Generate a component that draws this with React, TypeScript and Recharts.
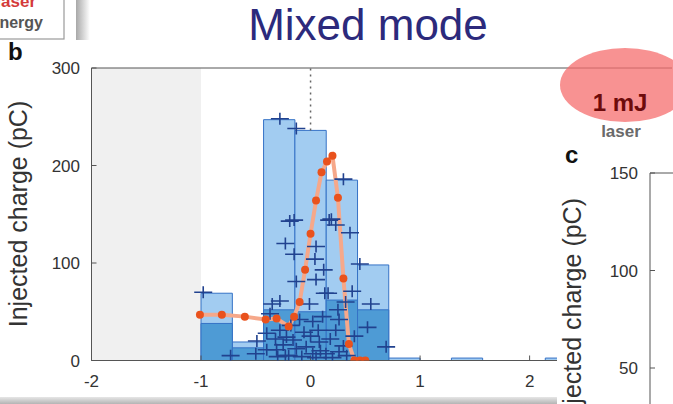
import React from "react";
import { ComposedChart, XAxis, YAxis, ReferenceArea, ReferenceLine, Scatter, Line } from "recharts";

// histogram bins, width 2/7 starting at -1
const binEdges = [-1, -0.714, -0.429, -0.143, 0.143, 0.429, 0.714, 1.0, 1.286, 1.571, 1.857, 2.143, 2.429];
const allCounts = [69, 19, 247, 236, 185, 98, 2.5, 0, 2.5, 0, 0, 2.5];
const selectedCounts = [38, 13, 52, 50, 62, 52, 0, 0, 0, 0, 0, 0];

// mean injected charge vs delay
const meanX = [-1.01, -0.81, -0.6, -0.41, -0.31, -0.2, -0.15, -0.1, -0.05, 0.0, 0.05, 0.1, 0.15, 0.2, 0.25, 0.3, 0.35, 0.4, 0.45, 0.5];
const meanQ = [47, 47, 45, 42, 43, 35, 45, 60, 93, 130, 164, 193, 204, 210, 167, 84, 17, 0, 0, 0];

// single shots
const shotX = [
  -0.98, -0.73, -0.49, -0.4, -0.5, -0.28, -0.13, 0.3, -0.19, -0.23, -0.15, 0.05, 0.04, 0.12, -0.13, 0.05, 0.19, 0.23,
  0.36, 0.45, 0.38, 0.13, 0.55, -0.28, -0.35, 0.25, -0.01, 0.52, 0.02, 0.07, 0.69, 0.23, 0.3, 0.26, -0.28, -0.4,
  -0.22, -0.16, -0.25, -0.13, -0.04, -0.31, 0.08, 0.14, 0.02, -0.37, -0.1, 0.11, 0.26, 0.16, -0.2, -0.08, 0.05, 0.2,
  0.33, -0.3, -0.18, 0.0, -0.06, 0.18, 0.4, 0.32, -0.32, -0.23, 0.09, 0.17, -0.15,
];
const shotQ = [
  70, 5, 20, 11, 7, 248, 238, 186, 143, 120, 109, 117, 104, 93, 81, 83, 145, 139, 131, 99, 71, 69, 58, 61, 58, 52,
  58, 34, 40, 31, 14, 31, 15, 9, 31, 28, 24, 21, 16, 12, 14, 11, 19, 7, 7, 48, 42, 45, 42, 69, 5, 4, 3, 3, 5, 4, 36,
  25, 29, 22, 25, 60, 22, 5, 10, 144, 144,
];

const xTicks = [-2, -1, 0, 1, 2, 3];
const yTicks = [0, 100, 200, 300];
const cTicks = [50, 100, 150];

const bins = allCounts.map((n, i) => ({ x1: binEdges[i], x2: binEdges[i + 1], all: n, sel: selectedCounts[i] }));
const meanData = meanX.map((x, i) => ({ x, q: meanQ[i] }));
const shotData = shotX.map((x, i) => ({ x, q: shotQ[i] }));

const font = "'Liberation Sans', Arial, Helvetica, sans-serif";

function Cross(props: any) {
  const { cx, cy } = props;
  if (cx == null || cy == null) return null;
  return (
    <g stroke="#21428f" strokeWidth={1.6}>
      <line x1={cx - 9} x2={cx + 9} y1={cy} y2={cy} />
      <line x1={cx} x2={cx} y1={cy - 6} y2={cy + 6} />
    </g>
  );
}

function PanelB() {
  return (
    <ComposedChart width={673} height={404} margin={{ top: 48, right: 1, bottom: 13.5, left: 0 }}>
      <XAxis
        dataKey="x"
        type="number"
        domain={[-2, 3.3]}
        ticks={xTicks}
        allowDataOverflow
        height={30}
        tickSize={-5}
        tickMargin={19}
        stroke="#555"
        tick={{ fill: "#333", fontSize: 17, fontFamily: font }}
      />
      <XAxis
        xAxisId="top"
        orientation="top"
        type="number"
        domain={[-2, 3.3]}
        ticks={xTicks}
        allowDataOverflow
        height={20}
        tickSize={-5}
        tick={false}
        stroke="#555"
      />
      <YAxis
        type="number"
        domain={[0, 300]}
        ticks={yTicks}
        allowDataOverflow
        width={91.5}
        tickSize={-5}
        tickMargin={16.5}
        stroke="#555"
        tick={{ fill: "#333", fontSize: 17, fontFamily: font }}
      />
      <ReferenceArea x1={-2} x2={-1} y1={0} y2={300} fill="#f0f0f0" fillOpacity={1} stroke="none" />
      <ReferenceLine
        segment={[
          { x: 0, y: 236 },
          { x: 0, y: 300 },
        ]}
        stroke="#666"
        strokeWidth={1.5}
        strokeDasharray="2 4"
      />
      {bins
        .filter((b) => b.all > 0)
        .map((b) => (
          <ReferenceArea
            key={"all" + b.x1}
            x1={b.x1}
            x2={b.x2}
            y1={0}
            y2={b.all}
            fill="#a2ccf1"
            fillOpacity={1}
            stroke="#3572c6"
            strokeWidth={1}
          />
        ))}
      {bins
        .filter((b) => b.sel > 0)
        .map((b) => (
          <ReferenceArea
            key={"sel" + b.x1}
            x1={b.x1}
            x2={b.x2}
            y1={0}
            y2={b.sel}
            fill="#4e9bd5"
            fillOpacity={1}
            stroke="#3572c6"
            strokeWidth={1}
          />
        ))}
      <Scatter data={shotData} dataKey="q" shape={<Cross />} isAnimationActive={false} />
      <Line
        data={meanData}
        dataKey="q"
        type="linear"
        stroke="#f6a88a"
        strokeWidth={4}
        dot={{ r: 4, fill: "#e9521d", stroke: "none" }}
        activeDot={false}
        isAnimationActive={false}
      />
    </ComposedChart>
  );
}

function PanelC() {
  return (
    <ComposedChart width={116} height={320} margin={{ top: 26, right: 0, bottom: 0.5, left: 0 }}>
      <XAxis dataKey="x" type="number" domain={[0, 1]} hide />
      <XAxis xAxisId="top" orientation="top" type="number" domain={[0, 1]} height={1} tick={false} tickLine={false} stroke="#555" />
      <YAxis
        type="number"
        domain={[0, 150]}
        ticks={cTicks}
        allowDataOverflow
        width={93}
        tickSize={-5}
        tickMargin={17}
        stroke="#555"
        tick={{ fill: "#333", fontSize: 17, fontFamily: font }}
      />
      <ReferenceArea x1={0} x2={1} y1={0} y2={150} fill="#f0f0f0" fillOpacity={1} stroke="none" />
    </ComposedChart>
  );
}

export default function App() {
  return (
    <div
      style={{
        position: "fixed",
        left: 0,
        top: 0,
        width: 673,
        height: 404,
        overflow: "hidden",
        background: "#fff",
        fontFamily: font,
      }}
    >
      <div style={{ position: "absolute", left: 0, top: 0 }}>
        <PanelB />
      </div>

      {/* panel c sits over the right end of panel b */}
      <div style={{ position: "absolute", left: 557, top: 146, width: 116, height: 258, background: "#fff", overflow: "hidden" }}>
        <PanelC />
      </div>

      <svg width={673} height={404} style={{ position: "absolute", left: 0, top: 0, pointerEvents: "none" }}>
        <defs>
          <linearGradient id="sideShade" x1="0" x2="1" y1="0" y2="0">
            <stop offset="0" stopColor="#a8a8a8" />
            <stop offset="1" stopColor="#ffffff" />
          </linearGradient>
          <linearGradient id="bottomShade" x1="0" x2="0" y1="0" y2="1">
            <stop offset="0" stopColor="#e6e6e6" />
            <stop offset="1" stopColor="#b4b4b4" />
          </linearGradient>
        </defs>

        {/* corner of the neighbouring legend box */}
        <rect x={-2} y={-2} width={66} height={41} fill="#fff" stroke="#9a9a9a" strokeWidth={1.2} />
        <text x={36} y={7} textAnchor="end" fontSize={17} fontWeight="bold" fill="#d43a3a" fontFamily={font}>
          laser
        </text>
        <text x={43} y={28} textAnchor="end" fontSize={16} fontWeight="bold" fill="#555" fontFamily={font}>
          energy
        </text>
        <rect x={76} y={0} width={14} height={40} fill="url(#sideShade)" />

        <text x={368} y={40} textAnchor="middle" fontSize={44} fill="#2c2a7c" fontFamily={font}>
          Mixed mode
        </text>

        <text x={8} y={60} fontSize={24} fontWeight="bold" fill="#111" fontFamily={font}>
          b
        </text>
        <text
          x={27}
          y={214}
          textAnchor="middle"
          fontSize={25}
          fill="#333"
          fontFamily={font}
          transform="rotate(-90 27 214)"
        >
          Injected charge (pC)
        </text>

        <ellipse cx={625} cy={85} rx={65} ry={37} fill="rgb(245,110,110)" fillOpacity={0.75} />
        <text x={620} y={111} textAnchor="middle" fontSize={24} fontWeight="bold" fill="#6e0b0b" fontFamily={font}>
          1 mJ
        </text>
        <text x={621} y={137} textAnchor="middle" fontSize={17} fontWeight="bold" fill="#6a6a6a" fontFamily={font}>
          laser
        </text>

        <text x={565} y={163} fontSize={24} fontWeight="bold" fill="#111" fontFamily={font}>
          c
        </text>
        <text
          x={581}
          y={198}
          textAnchor="end"
          fontSize={25}
          fill="#333"
          fontFamily={font}
          transform="rotate(-90 581 198)"
        >
          Injected charge (pC)
        </text>

        <rect x={0} y={397} width={557} height={7} fill="url(#bottomShade)" />
      </svg>
    </div>
  );
}
